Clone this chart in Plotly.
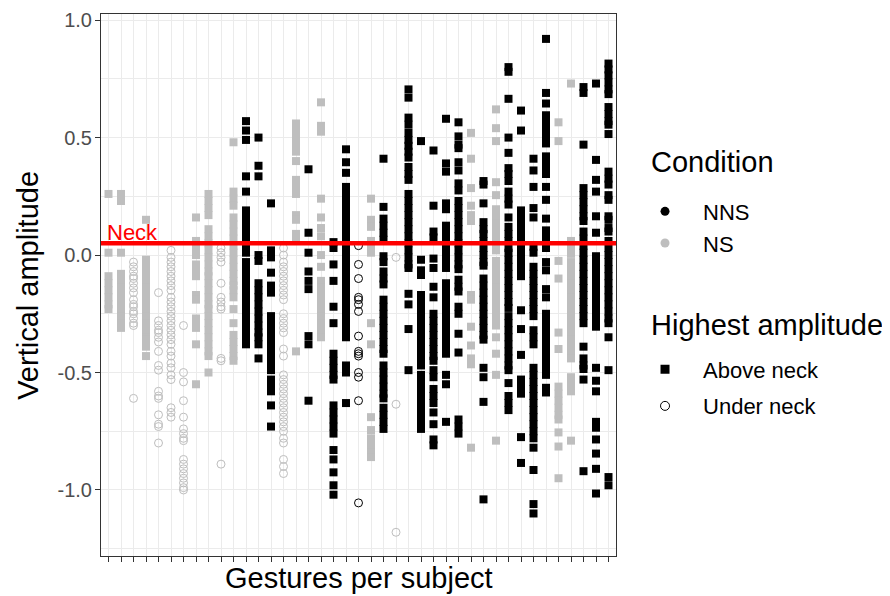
import plotly.graph_objects as go

# ---------------- data ----------------
NECK = 0.05

s01 = [0.26, 0.01, -0.09, -0.12, -0.15, -0.18, -0.21, -0.23]
s02 = [0.26, 0.23, 0.01, -0.08, -0.11, -0.14, -0.17, -0.20, -0.23, -0.26, -0.29, -0.31]
s03 = [-0.03, -0.05, -0.07, -0.09, -0.10, -0.12, -0.14, -0.16, -0.19, -0.21, -0.22, -0.24, -0.25, -0.27, -0.29, -0.30, -0.61]
s04 = [0.15, -0.02, -0.05, -0.08, -0.11, -0.14, -0.17, -0.20, -0.23, -0.26, -0.29, -0.32, -0.35, -0.36, -0.39, -0.43]
s05 = [-0.16, -0.28, -0.30, -0.32, -0.33, -0.35, -0.37, -0.41, -0.47, -0.49, -0.58, -0.60, -0.61, -0.68, -0.72, -0.73, -0.80]
s06 = [0.02, -0.01, -0.03, -0.05, -0.07, -0.09, -0.11, -0.13, -0.15, -0.18, -0.20, -0.22, -0.24, -0.26, -0.28, -0.30,
       -0.32, -0.34, -0.36, -0.38, -0.41, -0.43, -0.46, -0.48, -0.51, -0.53, -0.65, -0.67, -0.69]
s07 = [-0.30, -0.50, -0.54, -0.62, -0.69, -0.74, -0.76, -0.78, -0.79, -0.87, -0.89, -0.91, -0.93, -0.95, -0.97, -0.99, -1.0]
s08 = [0.16, 0.06, 0.03, 0.0, -0.04, -0.07, -0.09, -0.17, -0.19, -0.27, -0.30, -0.31, -0.38, -0.55]
s09 = [0.26, 0.23, 0.20, 0.17, 0.11, 0.08, 0.05, 0.02, -0.01, -0.04, -0.07, -0.09, -0.12, -0.15, -0.18, -0.21, -0.23,
       -0.26, -0.29, -0.32, -0.35, -0.38, -0.41, -0.43, -0.50]
s10 = [0.03, 0.01, -0.01, -0.03, -0.12, -0.18, -0.20, -0.22, -0.23, -0.44, -0.45, -0.89]
s11 = [0.48, 0.27, 0.24, 0.21, 0.16, 0.13, 0.10, 0.07, 0.04, 0.01, -0.02, -0.05, -0.08, -0.11, -0.13, -0.15, -0.18,
       -0.23, -0.29, -0.34, -0.37, -0.40, -0.43, -0.45]
s12 = [0.57, 0.53, 0.49, 0.335, 0.27, 0.19, 0.16, 0.13, 0.10, 0.07, 0.04, 0.01, -0.03, -0.06, -0.09, -0.12, -0.15,
       -0.18, -0.21, -0.24, -0.27, -0.30, -0.33, -0.36, -0.38]
s13 = [0.50, 0.38, 0.335, 0.0, -0.025, -0.12, -0.15, -0.18, -0.21, -0.24, -0.27, -0.30, -0.33, -0.35, -0.38, -0.44]
s14 = [0.22, 0.02, -0.01, -0.075, -0.13, -0.16, -0.26, -0.29, -0.32, -0.35, -0.38, -0.41, -0.44, -0.47, -0.49, -0.53,
       -0.56, -0.58, -0.64, -0.73]
s15 = [0.03, 0.0, -0.03, -0.05, -0.07, -0.09, -0.11, -0.13, -0.15, -0.17, -0.19, -0.25, -0.27, -0.29, -0.31, -0.33,
       -0.40, -0.43, -0.51, -0.53, -0.55, -0.57, -0.59, -0.61, -0.63, -0.65, -0.67, -0.69, -0.71, -0.73, -0.75, -0.78,
       -0.80, -0.87, -0.90, -0.93]
s16 = [0.56, 0.53, 0.50, 0.47, 0.44, 0.40, 0.32, 0.29, 0.26, 0.17, 0.15, 0.09, 0.06, -0.41]
s17 = [0.365, 0.095, 0.01, -0.07, -0.11, -0.145, -0.345, -0.38, -0.62]
s18 = [0.65, 0.55, 0.525, 0.24, 0.16, 0.115, 0.08, 0.0, -0.05, -0.11, -0.14, -0.17, -0.20, -0.23, -0.26, -0.29, -0.32, -0.35]
s19 = [0.055, 0.03, -0.04, -0.11, -0.22, -0.29, -0.42, -0.45, -0.48, -0.51, -0.53, -0.64, -0.67, -0.70, -0.73, -0.76,
       -0.83, -0.87, -0.925, -0.98, -1.02]
s20 = [0.45, 0.395, 0.35, 0.29, 0.27, 0.24, 0.21, 0.18, 0.15, 0.12, 0.09, 0.06, 0.03, 0.0, -0.03, -0.06, -0.09, -0.12,
       -0.15, -0.18, -0.21, -0.24, -0.27, -0.30, -0.33, -0.35, -0.47, -0.50, -0.63]
s21 = [0.04, -0.04, -0.10, -0.18, -0.19, -0.21, -0.24, -0.345, -0.41, -0.42, -0.43, -0.50, -0.52, -0.62, -1.055]
s22 = [0.24, 0.15, 0.12, 0.06, 0.03, 0.01, -0.29, -0.38, -0.69, -0.745, -0.78, -0.81, -0.84, -0.86]
s23 = [0.41, 0.205, 0.155, 0.125, 0.095, 0.065, -0.005, -0.03, -0.07, -0.10, -0.125, -0.19, -0.22, -0.25, -0.28, -0.31,
       -0.34, -0.37, -0.40, -0.42, -0.47, -0.50, -0.53, -0.56, -0.59, -0.61, -0.65, -0.68, -0.71, -0.74]
s24 = [-0.01, -0.635, -1.18]
s25 = [0.705, 0.67, 0.585, 0.555, 0.52, 0.49, 0.465, 0.44, 0.415, 0.375, 0.345, 0.32, 0.26, 0.23, 0.20, 0.17, 0.14,
       0.11, 0.08, 0.05, 0.02, -0.01, -0.04, -0.055, -0.165, -0.21, -0.315, -0.49]
s26 = [0.485, -0.02, -0.065, -0.085, -0.17, -0.20, -0.23, -0.26, -0.29, -0.32, -0.35, -0.38, -0.41, -0.44, -0.47, -0.51,
       -0.54, -0.57, -0.60, -0.63, -0.65, -0.68, -0.71, -0.74]
s27 = [0.445, 0.21, 0.10, 0.075, -0.015, -0.055, -0.135, -0.18, -0.25, -0.28, -0.31, -0.34, -0.37, -0.40, -0.43, -0.45,
       -0.49, -0.52, -0.57, -0.60, -0.63, -0.67, -0.72, -0.785, -0.81]
s28 = [0.58, 0.39, 0.355, 0.22, 0.195, 0.125, 0.095, 0.065, 0.035, 0.005, -0.025, -0.055, -0.12, -0.15, -0.18, -0.21,
       -0.24, -0.27, -0.30, -0.33, -0.36, -0.39, -0.42, -0.51, -0.55, -0.71]
s29 = [0.565, 0.505, 0.47, 0.455, 0.395, 0.36, 0.305, 0.275, 0.23, 0.20, 0.17, 0.14, 0.11, 0.08, 0.05, 0.02, -0.01,
       -0.04, -0.06, -0.105, -0.135, -0.155, -0.22, -0.25, -0.335, -0.415, -0.70, -0.73, -0.76]
s30 = [0.52, 0.41, 0.285, 0.21, 0.17, 0.145, -0.17, -0.19, -0.305, -0.385, -0.44, -0.465, -0.82]
s31 = [0.315, 0.30, 0.22, 0.14, 0.11, 0.09, 0.06, 0.03, 0.0, -0.03, -0.045, -0.10, -0.13, -0.16, -0.19, -0.22, -0.25,
       -0.28, -0.31, -0.34, -0.36, -0.48, -0.52, -0.625, -1.04]
s32 = [0.62, 0.54, 0.485, 0.31, 0.255, 0.195, 0.165, 0.135, 0.105, 0.075, 0.045, 0.02, -0.025, -0.055, -0.085, -0.11,
       -0.14, -0.17, -0.20, -0.225, -0.25, -0.28, -0.30, -0.35, -0.42, -0.51, -0.79]
s33 = [0.80, 0.78, 0.665, 0.50, 0.435, 0.37, 0.345, 0.315, 0.27, 0.24, 0.215, 0.16, 0.12, 0.09, 0.06, 0.03, 0.01, -0.02,
       -0.05, -0.08, -0.11, -0.14, -0.17, -0.20, -0.225, -0.26, -0.29, -0.32, -0.35, -0.38, -0.41, -0.44, -0.47, -0.49,
       -0.545, -0.60, -0.63, -0.66]
s34 = [0.615, 0.53, 0.19, 0.16, 0.13, 0.10, 0.075, 0.045, 0.015, -0.015, -0.045, -0.075, -0.09, -0.235, -0.315, -0.425,
       -0.53, -0.56, -0.59, -0.775, -0.885]
s35 = [0.41, 0.36, 0.29, 0.20, 0.16, 0.035, 0.01, -0.05, -0.08, -0.11, -0.14, -0.17, -0.20, -0.23, -0.26, -0.32, -0.35,
       -0.38, -0.48, -0.51, -0.54, -0.57, -0.60, -0.63, -0.66, -0.69, -0.72, -0.75, -0.78, -0.82, -0.915, -1.06, -1.10]
s36 = [0.92, 0.69, 0.645, 0.595, 0.565, 0.535, 0.505, 0.475, 0.42, 0.39, 0.36, 0.345, 0.29, 0.235, 0.155, 0.105, 0.075,
       0.05, 0.03, -0.03, -0.065, -0.145, -0.18, -0.25, -0.28, -0.31, -0.34, -0.37, -0.40, -0.43, -0.46, -0.49, -0.51,
       -0.565, -0.585]
s37 = [0.565, 0.485, -0.025, -0.10, -0.33, -0.40, -0.56, -0.59, -0.62, -0.65, -0.68, -0.70, -0.755, -0.815, -0.95]
s38 = [0.73, 0.06, 0.035, 0.005, -0.03, -0.06, -0.09, -0.12, -0.15, -0.18, -0.21, -0.24, -0.27, -0.30, -0.33, -0.36,
       -0.39, -0.42, -0.44, -0.52, -0.55, -0.58, -0.79]
s39 = [0.715, 0.69, 0.47, 0.285, 0.255, 0.225, 0.195, 0.165, 0.145, 0.10, 0.07, 0.04, 0.01, -0.02, -0.05, -0.08, -0.11,
       -0.14, -0.17, -0.20, -0.23, -0.26, -0.29, -0.39, -0.44, -0.47, -0.485, -0.53, -0.92]
s40 = [0.73, 0.405, 0.32, 0.27, 0.165, 0.095, -0.005, -0.035, -0.065, -0.095, -0.125, -0.155, -0.185, -0.215, -0.245,
       -0.275, -0.305, -0.48, -0.535, -0.58, -0.71, -0.735, -0.785, -0.845, -0.91, -1.015]
s41 = [0.815, 0.79, 0.765, 0.735, 0.705, 0.685, 0.63, 0.60, 0.57, 0.555, 0.515, 0.355, 0.325, 0.30, 0.255, 0.235, 0.165,
       0.15, 0.115, 0.10, 0.06, 0.03, 0.0, -0.03, -0.06, -0.09, -0.12, -0.15, -0.18, -0.21, -0.24, -0.27, -0.29, -0.35,
       -0.49, -0.945, -0.98]

subject_values = [s01, s02, s03, s04, s05, s06, s07, s08, s09, s10, s11, s12, s13, s14, s15, s16, s17, s18, s19, s20,
                  s21, s22, s23, s24, s25, s26, s27, s28, s29, s30, s31, s32, s33, s34, s35, s36, s37, s38, s39, s40, s41]

condition = ["NS", "NS", "NS", "NS", "NS", "NS", "NS", "NS", "NS", "NS", "NS", "NNS", "NNS", "NNS", "NS", "NS",
             "NNS", "NS", "NNS", "NNS", "NNS", "NS", "NNS", "NS", "NNS", "NNS", "NNS", "NNS", "NNS", "NS", "NNS",
             "NS", "NNS", "NNS", "NNS", "NNS", "NS", "NS", "NNS", "NNS", "NNS"]

under_neck_subjects = [3, 5, 6, 7, 10, 15, 21, 24]

# ---------------- styling ----------------
FONT = "Liberation Sans, Arial, Helvetica, sans-serif"
COND_COLOR = {"NNS": "#000000", "NS": "#BEBEBE"}
GRID = "#EBEBEB"

n_subj = len(subject_values)
subjects = list(range(1, n_subj + 1))

fig = go.Figure()

for cond in ["NNS", "NS"]:
    for amp in ["Above neck", "Under neck"]:
        xs, ys = [], []
        for i, vals in enumerate(subject_values):
            sid = i + 1
            is_under = sid in under_neck_subjects
            if condition[i] != cond:
                continue
            if (amp == "Under neck") != is_under:
                continue
            xs += [sid] * len(vals)
            ys += vals
        if not xs:
            continue
        if amp == "Above neck":
            marker = dict(symbol="square", size=8, color=COND_COLOR[cond], line=dict(width=0))
        else:
            marker = dict(symbol="circle-open", size=8, color=COND_COLOR[cond], line=dict(width=1))
        fig.add_trace(go.Scatter(x=xs, y=ys, mode="markers", marker=marker, showlegend=False,
                                 hoverinfo="x+y"))

# Legend entries
fig.add_trace(go.Scatter(x=[None], y=[None], mode="markers", name="NNS", legend="legend",
                         marker=dict(symbol="circle", size=9, color=COND_COLOR["NNS"])))
fig.add_trace(go.Scatter(x=[None], y=[None], mode="markers", name="NS", legend="legend",
                         marker=dict(symbol="circle", size=9, color=COND_COLOR["NS"])))
fig.add_trace(go.Scatter(x=[None], y=[None], mode="markers", name="Above neck", legend="legend2",
                         legendgroup="above",
                         marker=dict(symbol="square", size=9, color="#000000")))
fig.add_trace(go.Scatter(x=[None], y=[None], mode="markers", name="Under neck", legend="legend2",
                         legendgroup="under",
                         marker=dict(symbol="circle-open", size=9, color="#000000", line=dict(width=1))))

# Neck reference line
fig.add_shape(type="line", xref="paper", x0=0, x1=1, yref="y", y0=NECK, y1=NECK,
              line=dict(color="#FF0000", width=4.5), layer="above")
fig.add_annotation(x=1, y=NECK, xref="x", yref="y", text="Neck", showarrow=False,
                   xanchor="left", yanchor="bottom", xshift=-4, yshift=-4,
                   font=dict(family=FONT, size=22, color="#FF0000"))

# Axis titles
fig.add_annotation(x=0.5, y=-0.0406, xref="paper", yref="paper", text="Gestures per subject",
                   showarrow=False, xanchor="center", yanchor="middle",
                   font=dict(family=FONT, size=29, color="#000000"))
fig.add_annotation(x=-0.142, y=0.5, xref="paper", yref="paper", text="Vertical amplitude",
                   showarrow=False, xanchor="center", yanchor="middle", textangle=-90,
                   font=dict(family=FONT, size=29, color="#000000"))

# Legend titles
fig.add_annotation(x=1.064, y=0.727, xref="paper", yref="paper", text="Condition",
                   showarrow=False, xanchor="left", yanchor="middle",
                   font=dict(family=FONT, size=29, color="#000000"))
fig.add_annotation(x=1.064, y=0.426, xref="paper", yref="paper", text="Highest amplitude",
                   showarrow=False, xanchor="left", yanchor="middle",
                   font=dict(family=FONT, size=29, color="#000000"))

fig.update_layout(
    width=882, height=588,
    margin=dict(l=93, r=274, t=6, b=40, autoexpand=False),
    paper_bgcolor="white", plot_bgcolor="white",
    font=dict(family=FONT, color="#000000"),
    xaxis=dict(
        range=[0.4, n_subj + 0.6], automargin=False,
        tickmode="array", tickvals=subjects, ticktext=[""] * n_subj,
        ticks="outside", ticklen=5, tickwidth=1, tickcolor="#333333",
        showgrid=True, gridcolor=GRID, gridwidth=1.4, zeroline=False,
        showline=True, mirror=True, linecolor="#333333", linewidth=1,
    ),
    yaxis=dict(
        range=[-1.281, 1.026], automargin=False,
        tickmode="array", tickvals=[-1.0, -0.5, 0.0, 0.5, 1.0],
        ticktext=["-1.0", "-0.5", "0.0", "0.5", "1.0"],
        tickfont=dict(size=20, color="#4D4D4D", family=FONT),
        ticks="outside", ticklen=5, tickwidth=1, tickcolor="#333333",
        ticklabelstandoff=-1,
        showgrid=True, gridcolor=GRID, gridwidth=1.4, zeroline=False,
        minor=dict(tickvals=[-1.25, -0.75, -0.25, 0.25, 0.75], showgrid=True, gridcolor=GRID,
                   gridwidth=1.0, ticks=""),
        showline=True, mirror=True, linecolor="#333333", linewidth=1,
    ),
    legend=dict(
        x=1.0214, xanchor="left", y=0.606, yanchor="middle",
        font=dict(size=22, family=FONT), itemwidth=66, bgcolor="rgba(0,0,0,0)",
    ),
    legend2=dict(
        x=1.0214, xanchor="left", y=0.31, yanchor="middle",
        font=dict(size=22, family=FONT), itemwidth=66, bgcolor="rgba(0,0,0,0)",
        traceorder="grouped", tracegroupgap=5,
    ),
)

fig.write_html("out.html")
